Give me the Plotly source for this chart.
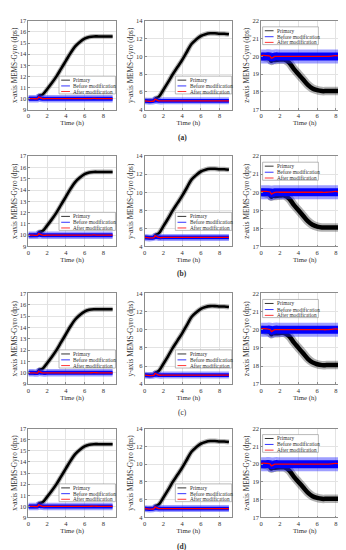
import plotly.graph_objects as go

# ---------------- data ----------------
time_h = [0, 0.5, 1.0, 1.1, 1.2, 1.5, 2.0, 2.5, 3.0, 3.5, 4.0, 4.5,
          5.0, 5.5, 6.0, 6.5, 7.0, 7.5, 8.0, 8.5, 9.0]

primary_x = [10.0, 10.0, 10.05, 10.2, 10.3, 10.35, 10.85, 11.4, 12.0, 12.7, 13.4, 14.1,
             14.7, 15.1, 15.4, 15.55, 15.6, 15.6, 15.6, 15.6, 15.6]
before_x = [10.0, 10.0, 10.0, 10.1, 10.05, 10.0, 10.0, 10.0, 10.0, 10.0, 10.0, 10.0,
            10.0, 10.0, 10.0, 10.0, 10.0, 10.0, 10.0, 10.0, 10.0]
after_x = [10.0, 10.0, 10.0, 10.15, 10.1, 10.0, 10.0, 10.0, 10.0, 10.0, 10.0, 10.0,
           10.0, 10.0, 10.0, 10.0, 10.02, 10.0, 10.0, 10.0, 10.0]

primary_y = [5.0, 5.0, 5.05, 5.2, 5.3, 5.45, 6.25, 7.1, 8.0, 8.8, 9.6, 10.5,
             11.4, 11.9, 12.3, 12.5, 12.6, 12.6, 12.55, 12.55, 12.5]
before_y = [5.0, 4.95, 5.0, 5.1, 5.05, 5.0, 5.0, 5.0, 5.0, 5.0, 5.0, 5.0,
            5.0, 5.0, 5.0, 5.0, 5.0, 5.0, 5.0, 5.0, 5.0]
after_y = [5.0, 4.95, 5.0, 5.2, 5.15, 5.0, 5.0, 5.0, 5.0, 5.0, 5.0, 5.0,
           5.0, 5.0, 5.0, 5.0, 5.0, 5.0, 5.0, 5.0, 5.0]

primary_z = [20.0, 19.95, 19.85, 19.75, 19.8, 19.8, 19.82, 19.82, 19.65, 19.3, 19.0, 18.7,
             18.4, 18.2, 18.1, 18.05, 18.05, 18.05, 18.05, 18.05, 18.05]
before_z = [20.0, 20.0, 20.0, 19.95, 19.95, 20.0, 20.0, 20.0, 20.0, 20.0, 20.0, 20.0,
            20.0, 20.0, 20.0, 20.0, 20.0, 20.0, 20.0, 20.0, 20.0]
after_z = [20.05, 20.05, 20.0, 19.9, 19.92, 20.0, 20.0, 20.0, 20.0, 20.0, 20.0, 20.0,
           20.0, 20.0, 20.0, 20.0, 20.0, 20.02, 20.05, 20.0, 20.0]

series_names = ["Primary", "Before modification", "After modification"]
y_titles = ["x-axis MEMS-Gyro (dps)", "y-axis MEMS-Gyro (dps)", "z-axis MEMS-Gyro (dps)"]
x_title = "Time (h)"
panel_labels = ["(a)", "(b)", "(c)", "(d)"]
y_ranges = [[9, 17], [4, 14], [17, 22]]
y_ticks = [[9, 10, 11, 12, 13, 14, 15, 16, 17], [4, 6, 8, 10, 12, 14], [17, 18, 19, 20, 21, 22]]
x_ticks = [0, 2, 4, 6, 8]
axis_data = [(primary_x, before_x, after_x), (primary_y, before_y, after_y),
             (primary_z, before_z, after_z)]

# ---------------- layout / style ----------------
W, H = 346, 550
col_left = [18.5, 135.5, 252.5]
col_w = 88
row_top = [9, 146, 285, 422]
row_bot = [99, 237.5, 377, 512]
label_y = [127, 265, 406, 541]
label_bold = [True, True, False, True]

FONT = "Liberation Serif, Times New Roman, serif"
TXT = "#303030"
# line widths per column (core, fringe) for the noisy bands
prim_w = [(2.6, 4.8), (2.6, 5), (4.5, 8.5)]
bef_w = [(4, 7.5), (3.8, 7), (8, 14)]

fig = go.Figure()
shapes, annotations = [], []

for r in range(4):
    for c in range(3):
        idx = r * 3 + c + 1
        xa = "x" if idx == 1 else f"x{idx}"
        ya = "y" if idx == 1 else f"y{idx}"
        prim, bef, aft = axis_data[c]
        # primary
        fig.add_trace(go.Scatter(x=time_h, y=prim, mode="lines", line_shape="spline",
                                 line=dict(color="rgba(0,0,0,0.3)", width=prim_w[c][1]),
                                 xaxis=xa, yaxis=ya, showlegend=False, hoverinfo="skip"))
        fig.add_trace(go.Scatter(x=time_h, y=prim, mode="lines", line_shape="spline",
                                 line=dict(color="black", width=prim_w[c][0]),
                                 xaxis=xa, yaxis=ya, showlegend=False, name=series_names[0]))
        # before
        fig.add_trace(go.Scatter(x=time_h, y=bef, mode="lines", line_shape="spline",
                                 line=dict(color="rgba(40,40,255,0.45)", width=bef_w[c][1]),
                                 xaxis=xa, yaxis=ya, showlegend=False, hoverinfo="skip"))
        fig.add_trace(go.Scatter(x=time_h, y=bef, mode="lines", line_shape="spline",
                                 line=dict(color="rgb(0,0,255)", width=bef_w[c][0]),
                                 xaxis=xa, yaxis=ya, showlegend=False, name=series_names[1]))
        # after
        fig.add_trace(go.Scatter(x=time_h, y=aft, mode="lines", line_shape="spline",
                                 line=dict(color="rgb(255,0,0)", width=1.3),
                                 xaxis=xa, yaxis=ya, showlegend=False, name=series_names[2]))

        x0 = col_left[c] / W
        x1 = (col_left[c] + col_w) / W
        y1 = 1 - row_top[r] / H
        y0 = 1 - row_bot[r] / H
        common = dict(showgrid=True, gridcolor="#e3e3e3", gridwidth=0.6,
                      showline=True, mirror=True, linecolor="#8c8c8c", linewidth=0.7,
                      ticks="inside", ticklen=2, tickcolor="#8c8c8c", zeroline=False,
                      tickfont=dict(family=FONT, size=6.5, color=TXT))
        fig.layout[f"xaxis{idx}"] = dict(
            domain=[x0, x1], anchor=ya, range=[0, 9.35], tickvals=x_ticks,
            title=dict(text=x_title, font=dict(family=FONT, size=6.8, color=TXT), standoff=1),
            **common)
        fig.layout[f"yaxis{idx}"] = dict(
            domain=[y0, y1], anchor=xa, range=y_ranges[c], tickvals=y_ticks[c],
            title=dict(text=y_titles[c], font=dict(family=FONT, size=7.3, color=TXT), standoff=1),
            **common)

        # legend box drawn in the axis domain
        xr, yr = f"{xa} domain", f"{ya} domain"
        if c < 2:
            bx0, bx1, by0, by1 = 0.35, 0.995, 0.178, 0.378
            rows_y = [0.333, 0.268, 0.205]
        else:
            bx0, bx1, by0, by1 = 0.018, 0.655, 0.733, 0.933
            rows_y = [0.889, 0.822, 0.758]
        shapes.append(dict(type="rect", xref=xr, yref=yr, x0=bx0, x1=bx1, y0=by0, y1=by1,
                           fillcolor="white", line=dict(color="#8c8c8c", width=0.6), layer="above"))
        for k, col in enumerate(["black", "rgb(0,0,255)", "rgb(255,0,0)"]):
            shapes.append(dict(type="line", xref=xr, yref=yr, x0=bx0 + 0.025, x1=bx0 + 0.125,
                               y0=rows_y[k], y1=rows_y[k], line=dict(color=col, width=0.8),
                               layer="above"))
            annotations.append(dict(xref=xr, yref=yr, x=bx0 + 0.14, y=rows_y[k],
                                    text=series_names[k], showarrow=False,
                                    xanchor="left", yanchor="middle",
                                    font=dict(family=FONT, size=5.3, color=TXT)))

    lab = f"<b>{panel_labels[r]}</b>" if label_bold[r] else panel_labels[r]
    annotations.append(dict(xref="paper", yref="paper", x=173 / W, y=1 - label_y[r] / H,
                            text=lab, showarrow=False, xanchor="center", yanchor="middle",
                            font=dict(family=FONT, size=7.5, color=TXT)))

fig.update_layout(width=W, height=H, margin=dict(l=0, r=0, t=0, b=0),
                  paper_bgcolor="white", plot_bgcolor="white",
                  shapes=shapes, annotations=annotations, showlegend=False)

fig.write_html("out.html")
